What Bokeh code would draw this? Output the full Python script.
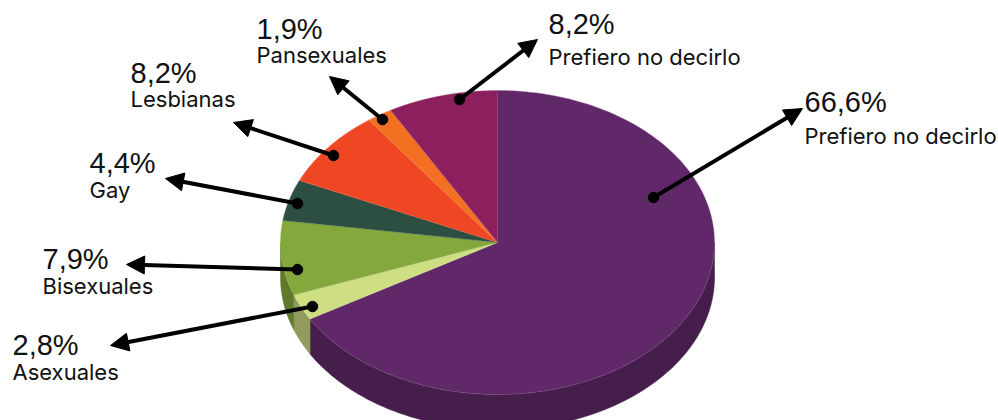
import numpy as np
from bokeh.plotting import figure
from bokeh.models import Range1d, Arrow, NormalHead
from bokeh.core.properties import value
from bokeh.embed import file_html
from bokeh.resources import INLINE

categories = ["Prefiero no decirlo", "Asexuales", "Bisexuales", "Gay", "Lesbianas", "Pansexuales", "Prefiero no decirlo"]
shares = [66.6, 2.8, 7.9, 4.4, 8.2, 1.9, 8.2]
pct_labels = ["66,6%", "2,8%", "7,9%", "4,4%", "8,2%", "1,9%", "8,2%"]
top_colors = ["#612869", "#CEDE83", "#84A83C", "#2D4F42", "#EF4623", "#F36F21", "#8C205F"]
wall_colors = ["#451E4C", "#939A5E", "#5F7A2C", "#1F382F", "#A83118", "#AA4E17", "#621643"]

# layout (picture pixels)
CX, CY, RX, RY, DEPTH = 497.0, 242.0, 217.0, 152.0, 35.0
pct_pos = [(804, 101), (12, 344), (42, 258), (89, 162), (130, 72), (256, 28), (548, 23)]
name_pos = [(804, 135), (12, 371), (42, 285), (89, 189), (130, 98), (256, 54), (548, 56)]
arrow_from = [(653, 197), (312, 306), (297, 269), (297, 203), (333, 155), (382, 119), (459, 99)]
arrow_to = [(802, 108), (110, 345), (126, 264), (165, 178), (233, 122), (329, 76), (537, 39)]

p = figure(width=998, height=420, output_backend="svg", toolbar_location=None,
           x_range=Range1d(0, 998), y_range=Range1d(420, 0), min_border=0,
           outline_line_color=None)
p.axis.visible = False
p.grid.visible = False
p.background_fill_color = "white"

def ell(a):
    return CX + RX * np.sin(a), CY - RY * np.cos(a)

edges = np.radians(np.concatenate([[0.0], np.cumsum(shares)]) * 3.6)

# walls: only the front half of the pie has a visible side
for i, col in enumerate(wall_colors):
    a0, a1 = max(edges[i], np.pi / 2), min(edges[i + 1], 3 * np.pi / 2)
    if a1 <= a0:
        continue
    a = np.linspace(a0, a1, 160)
    x, y = ell(a)
    p.patch(np.r_[x, x[::-1]], np.r_[y, (y + DEPTH)[::-1]], fill_color=col, line_color=col, line_width=0.5)

# top faces
for i, col in enumerate(top_colors):
    a = np.linspace(edges[i], edges[i + 1], 240)
    x, y = ell(a)
    p.patch(np.r_[CX, x], np.r_[CY, y], fill_color=col, line_color=col, line_width=0.3)
    p.line(x, y, line_color="white", line_alpha=0.15, line_width=0.7)
    ex, ey = ell(edges[i])
    p.line([CX, ex], [CY, ey], line_color="white", line_alpha=0.12, line_width=0.7)

# callouts
for (x0, y0), (x1, y1) in zip(arrow_from, arrow_to):
    p.add_layout(Arrow(x_start=x0, y_start=y0, x_end=x1, y_end=y1, line_color="black", line_width=4,
                       end=NormalHead(size=18, fill_color="black", line_color="black", line_width=1)))
p.scatter([a[0] for a in arrow_from], [a[1] for a in arrow_from], size=10.5, color="black")

p.text([a[0] for a in pct_pos], [a[1] for a in pct_pos], text=pct_labels, text_font=value("Liberation Sans"),
       text_font_size="29px", text_color="#111111", text_baseline="alphabetic", text_align="left")
p.text([a[0] for a in name_pos], [a[1] for a in name_pos], text=categories, text_font=value("Inter"),
       text_font_size="22px", text_color="#111111", text_baseline="alphabetic", text_align="left")

open("out.html", "w").write(file_html(p, INLINE))
